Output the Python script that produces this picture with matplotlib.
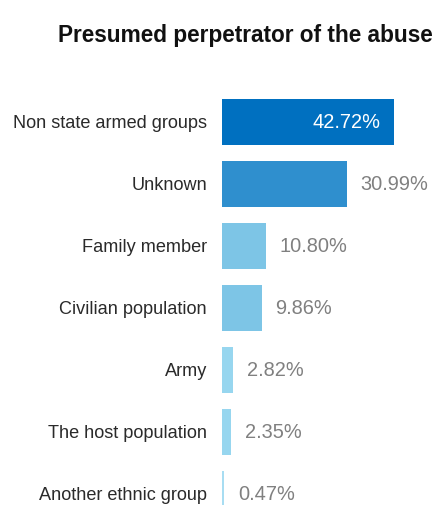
import matplotlib.pyplot as plt

plt.rcParams['font.family'] = ['Liberation Sans', 'DejaVu Sans']

categories = ["Non state armed groups", "Unknown", "Family member", "Civilian population",
              "Army", "The host population", "Another ethnic group"]
values = [42.72, 30.99, 10.80, 9.86, 2.82, 2.35, 0.47]
colors = ["#0070c0", "#2f8fce", "#7dc5e6", "#7dc5e6", "#97d6ef", "#97d6ef", "#a8ddf2"]

fig = plt.figure(figsize=(4.35, 5.05), dpi=100)
# axes from x=222px to 435px, y=90px to 505px
ax = fig.add_axes([222 / 435, 0, 213 / 435, 415 / 505])

ypos = list(range(len(categories)))
ax.barh(ypos, values, height=0.73, color=colors)
ax.set_xlim(0, 213 / 4.03)
ax.set_ylim((505 - 122) / 62, (90 - 122) / 62)

ax.set_yticks(ypos)
ax.set_yticklabels(categories, fontsize=13.1, color="#2a2a2a")
ax.tick_params(axis="y", length=0, pad=10.8)
ax.set_xticks([])
for s in ax.spines.values():
    s.set_visible(False)

for i, v in enumerate(values):
    label = f"{v:.2f}%"
    if i == 0:
        ax.annotate(label, (v, i), xytext=(-10, 0), textcoords="offset points",
                    ha="right", va="center", fontsize=14.4, color="white")
    else:
        ax.annotate(label, (v, i), xytext=(10, 0), textcoords="offset points",
                    ha="left", va="center", fontsize=14.4, color="#808080")

fig.text(245.5 / 435, 1 - 35 / 505, "Presumed perpetrator of the abuse",
         ha="center", va="center", fontsize=16.3, fontweight="bold", color="#111111")

fig.savefig("out.png", dpi=100)
